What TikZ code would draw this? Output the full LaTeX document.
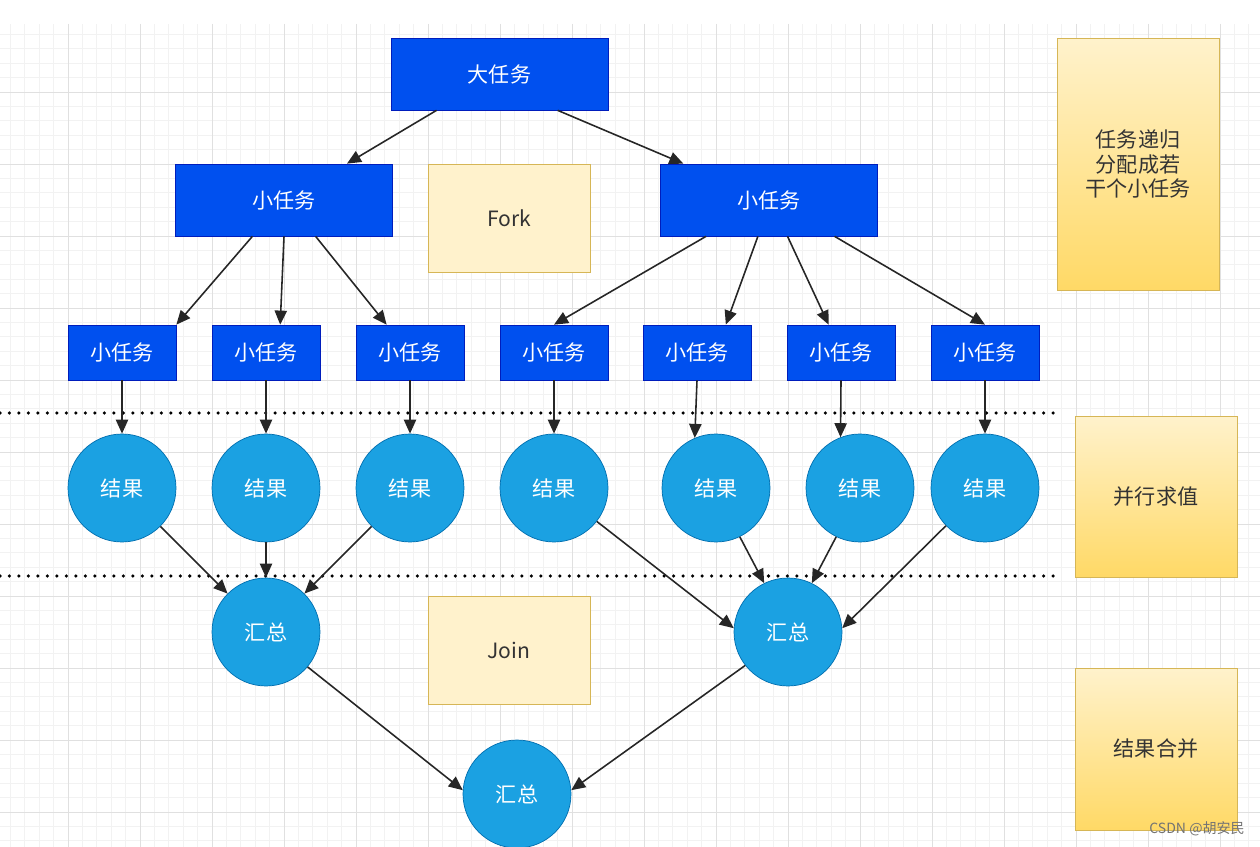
\documentclass[tikz,border=0pt]{standalone}
\usepackage{fontspec}
\setmainfont{Noto Sans CJK SC}
\usetikzlibrary{arrows.meta}

\definecolor{taskblue}{HTML}{0050EF}
\definecolor{taskline}{HTML}{001DBC}
\definecolor{resblue}{HTML}{1BA1E2}
\definecolor{resline}{HTML}{006EAF}
\definecolor{notefill}{HTML}{FFF2CC}
\definecolor{noteline}{HTML}{D6B656}
\definecolor{notedark}{HTML}{FFD966}
\definecolor{gridminor}{HTML}{F2F2F2}
\definecolor{gridmajor}{HTML}{E0E0E0}

\tikzset{
  task/.style={draw=taskline, fill=taskblue, text=white, minimum width=4.34cm, minimum height=1.44cm, inner sep=0pt},
  subtask/.style={task, minimum width=2.16cm, minimum height=1.1cm},
  result/.style={circle, draw=resline, fill=resblue, text=white, minimum size=2.16cm, inner sep=0pt},
  note/.style={draw=noteline, fill=notefill, text=black!80, minimum width=3.24cm, minimum height=2.16cm},
  phase/.style={draw=noteline, top color=notefill, bottom color=notedark, text=black!80, minimum width=3.24cm, align=center},
  flow/.style={-{Triangle[length=8pt,width=7pt]}, line width=0.9pt, draw=black!85},
  dotline/.style={line width=2pt, line cap=round, dash pattern=on 0pt off 5.4pt},
}

\begin{document}
\begin{tikzpicture}[x=0.02cm, y=-0.02cm, font=\fontsize{12pt}{14pt}\selectfont]
    \useasboundingbox (0,0) rectangle (1260,847);
    % Grid
    \foreach \i in {1,...,88} \draw[gridminor, line width=0.4pt] ({-4+14.4*\i},24) -- ({-4+14.4*\i},847);
    \foreach \j in {1,...,57} \draw[gridminor, line width=0.4pt] (0,{20+14.4*\j}) -- (1260,{20+14.4*\j});
    \foreach \i in {1,...,17} \draw[gridmajor, line width=0.5pt] ({-4+72*\i},24) -- ({-4+72*\i},847);
    \foreach \j in {1,...,11} \draw[gridmajor, line width=0.5pt] (0,{20+72*\j}) -- (1260,{20+72*\j});

    % Separators
    \draw[dotline] (0,413) -- (1055,413);
    \draw[dotline] (0,576) -- (1055,576);

    % Nodes
    \node[task] (big) at (499.5,74) {大任务};
    \node[task] (leftTask) at (284,200) {小任务};
    \node[task] (rightTask) at (769,200) {小任务};
    \node[note] (fork) at (509,218) {Fork};
    \node[note] (join) at (509,650) {Join};

    \node[subtask] (t1) at (122,352.5) {小任务};
    \node[subtask] (t2) at (266,352.5) {小任务};
    \node[subtask] (t3) at (410,352.5) {小任务};
    \node[subtask] (t4) at (554,352.5) {小任务};
    \node[subtask] (t5) at (697,352.5) {小任务};
    \node[subtask] (t6) at (841,352.5) {小任务};
    \node[subtask] (t7) at (985,352.5) {小任务};

    \node[result] (r1) at (122,488) {结果};
    \node[result] (r2) at (266,488) {结果};
    \node[result] (r3) at (410,488) {结果};
    \node[result] (r4) at (554,488) {结果};
    \node[result] (r5) at (716,488) {结果};
    \node[result] (r6) at (860,488) {结果};
    \node[result] (r7) at (985,488) {结果};

    \node[result] (sumL) at (266,632) {汇总};
    \node[result] (sumR) at (788,632) {汇总};
    \node[result] (total) at (517,794) {汇总};

    \node[phase, minimum height=5.04cm] (phaseSplit) at (1138,164) {任务递归\\分配成若\\干个小任务};
    \node[phase, minimum height=3.22cm] (phaseCompute) at (1156,496.5) {并行求值};
    \node[phase, minimum height=3.24cm] (phaseMerge) at (1156,749) {结果合并};

    \node[text=black!55, font=\fontsize{8pt}{9pt}\selectfont] (mark) at (1197,829) {CSDN @胡安民};

    % Fork
    \draw[flow] (big.-150) -- (leftTask.30);
    \draw[flow] (big.-32) -- (rightTask.157);
    \draw[flow] (leftTask.-131) -- (t1.north east);
    \draw[flow] (leftTask.-90) -- (t2.63);
    \draw[flow] (leftTask.-49) -- (t3.130);
    \draw[flow] (rightTask.-150) -- (t4.north);
    \draw[flow] (rightTask.-107) -- (t5.44);
    \draw[flow] (rightTask.-63) -- (t6.114);
    \draw[flow] (rightTask.-29) -- (t7.north);

    % Compute
    \draw[flow] (t1.south) -- (r1.north);
    \draw[flow] (t2.south) -- (r2.north);
    \draw[flow] (t3.south) -- (r3.north);
    \draw[flow] (t4.south) -- (r4.north);
    \draw[flow] (t5.south) -- (r5.113);
    \draw[flow] (t6.south) -- (r6.111);
    \draw[flow] (t7.south) -- (r7.north);

    % Join
    \draw[flow] (r1.-45) -- (sumL.135);
    \draw[flow] (r2.south) -- (sumL.north);
    \draw[flow] (r3.-135) -- (sumL.45);
    \draw[flow] (r4.-38) -- (sumR.176);
    \draw[flow] (r5.-64) -- (sumR.116);
    \draw[flow] (r6.-116) -- (sumR.64);
    \draw[flow] (r7.-136) -- (sumR.4);
    \draw[flow] (sumL.-40) -- (total.176);
    \draw[flow] (sumR.-142) -- (total.4);
\end{tikzpicture}
\end{document}
